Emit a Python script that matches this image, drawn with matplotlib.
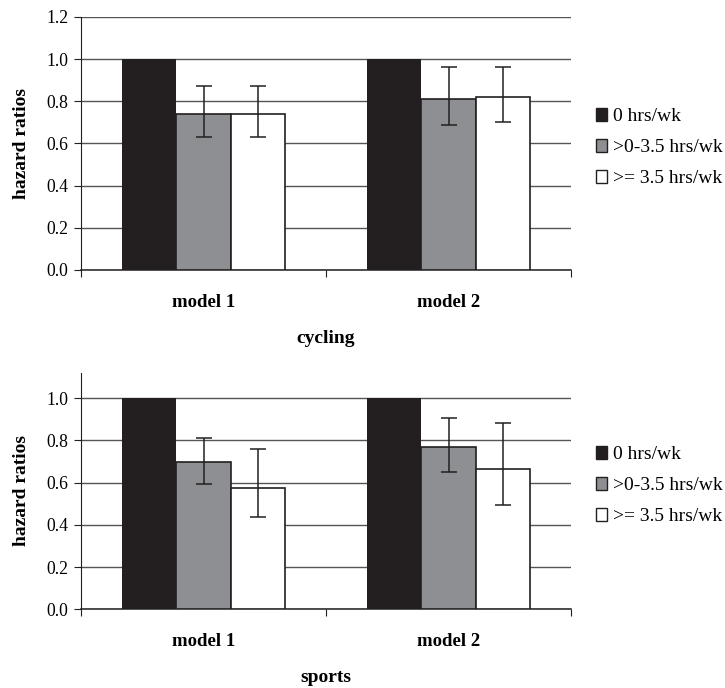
import matplotlib
matplotlib.use("Agg")
import matplotlib.pyplot as plt
import numpy as np
from matplotlib.patches import Patch

plt.rcParams['font.family'] = ['Liberation Serif', 'DejaVu Serif']

models = ['model 1', 'model 2']
groups = ['0 hrs/wk', '>0-3.5 hrs/wk', '>= 3.5 hrs/wk']
colors = ['#231f20', '#8e8f92', '#ffffff']

# cycling: hazard ratios per group, for model 1 and model 2
cyc_hr = [[1.0, 1.0], [0.74, 0.813], [0.74, 0.821]]
cyc_lo = [[None, None], [0.632, 0.69], [0.632, 0.702]]
cyc_hi = [[None, None], [0.871, 0.965], [0.871, 0.965]]

# sports
spo_hr = [[1.0, 1.0], [0.695, 0.769], [0.573, 0.662]]
spo_lo = [[None, None], [0.595, 0.652], [0.436, 0.493]]
spo_hi = [[None, None], [0.813, 0.907], [0.761, 0.88]]


def draw_panel(ax, hr, lo, hi, ymax, yticks, xlabel):
    x = np.arange(len(models))
    w = 1 / 4.5
    for i, grp in enumerate(groups):
        xs = x + (i - 1) * w
        ax.bar(xs, hr[i], width=w, color=colors[i],
               edgecolor='#231f20', linewidth=1.2 if i > 0 else 0, zorder=3)
        if lo[i][0] is not None:
            vals = np.array(hr[i])
            err = [vals - np.array(lo[i]), np.array(hi[i]) - vals]
            ax.errorbar(xs, vals, yerr=err, fmt='none', ecolor='#231f20',
                        elinewidth=1.1, capsize=6, capthick=1.1, zorder=4)

    ax.set_xlim(-0.5, 1.5)
    ax.set_ylim(0, ymax)
    ax.set_yticks(yticks)
    ax.set_yticklabels(['%.1f' % v for v in yticks], fontsize=12.7)
    ax.yaxis.grid(True, color='#555555', linewidth=1, zorder=0)
    ax.set_axisbelow(True)

    ax.set_xticks([-0.5, 0.5, 1.5])
    ax.set_xticklabels([])
    ax.set_xticks(x, minor=True)
    ax.set_xticklabels(models, minor=True, fontsize=13.5, fontweight='bold')
    ax.tick_params(axis='x', which='minor', length=0, pad=17)
    ax.tick_params(axis='x', which='major', length=5, direction='out', color='#231f20')
    ax.tick_params(axis='y', length=5, direction='out', color='#231f20', pad=4)

    for s in ['top', 'right']:
        ax.spines[s].set_visible(False)
    ax.spines['left'].set_color('#231f20')
    ax.spines['bottom'].set_color('#231f20')
    ax.spines['bottom'].set_linewidth(1.1)

    ax.set_xlabel(xlabel, fontsize=14, fontweight='bold', labelpad=14)
    ax.set_ylabel('hazard ratios', fontsize=14, fontweight='bold', labelpad=12)


fig = plt.figure(figsize=(7.25, 6.88), dpi=100)
ax1 = fig.add_axes([0.1117, 0.6076, 0.676, 0.3677])
ax2 = fig.add_axes([0.1117, 0.1144, 0.676, 0.3439])

draw_panel(ax1, cyc_hr, cyc_lo, cyc_hi, 1.2, np.arange(0, 1.21, 0.2), 'cycling')
draw_panel(ax2, spo_hr, spo_lo, spo_hi, 1.12, np.arange(0, 1.01, 0.2), 'sports')

handles = [Patch(facecolor=c, edgecolor='#231f20', linewidth=1) for c in colors]
for yc in [0.785, 0.294]:
    fig.legend(handles, groups, loc='center left', bbox_to_anchor=(0.808, yc),
               frameon=False, fontsize=14, handlelength=0.6, handleheight=0.6,
               handletextpad=0.3, labelspacing=0.72, borderpad=0)

fig.savefig('out.png', dpi=100)
